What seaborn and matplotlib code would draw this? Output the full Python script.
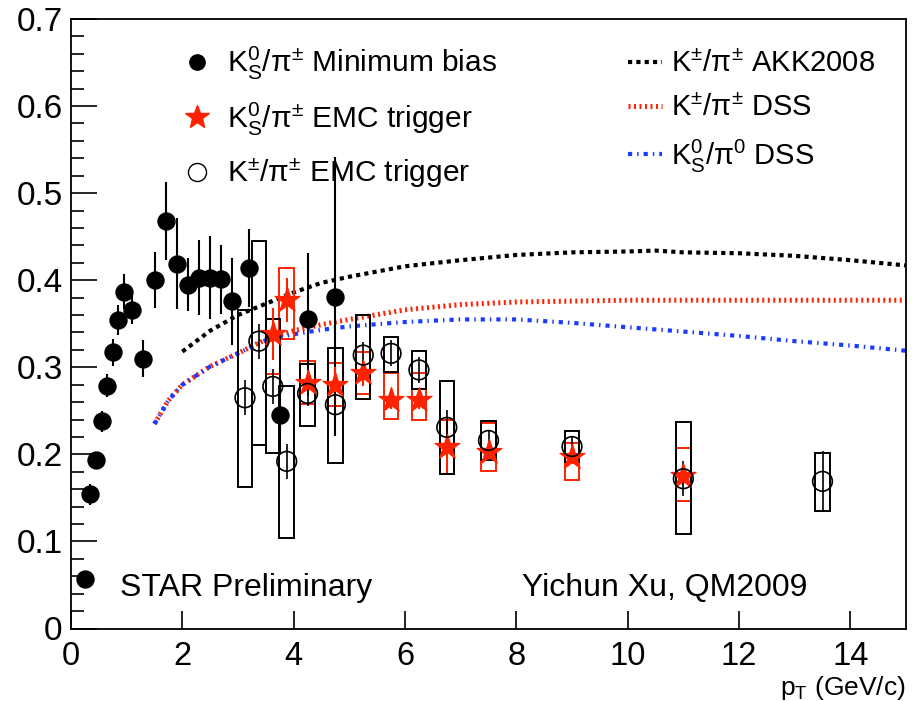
import numpy as np
import pandas as pd
import matplotlib
matplotlib.use("Agg")
import matplotlib.pyplot as plt
from matplotlib.patches import Rectangle
from matplotlib.lines import Line2D
import seaborn as sns

# ---------------- data ----------------
mb_pt = [0.25, 0.35, 0.45, 0.55, 0.65, 0.75, 0.85, 0.95, 1.1, 1.3, 1.5, 1.7, 1.9,
         2.1, 2.3, 2.5, 2.7, 2.9, 3.2, 3.75, 4.25, 4.75]
mb_ratio = [0.057, 0.154, 0.193, 0.238, 0.279, 0.317, 0.354, 0.387, 0.366, 0.310,
            0.400, 0.468, 0.419, 0.395, 0.403, 0.403, 0.401, 0.376, 0.414, 0.245,
            0.356, 0.381]
mb_err = [0.005, 0.012, 0.010, 0.012, 0.013, 0.015, 0.017, 0.020, 0.016, 0.021,
          0.032, 0.045, 0.052, 0.030, 0.043, 0.048, 0.040, 0.050, 0.045, 0.040,
          0.075, 0.160]

k0_pt = [3.625, 3.875, 4.25, 4.75, 5.25, 5.75, 6.25, 6.75, 7.5, 9.0, 11.0]
k0_ratio = [0.338, 0.377, 0.282, 0.280, 0.293, 0.262, 0.262, 0.209, 0.203, 0.197, 0.175]
k0_stat = [0.030, 0.025, 0.015, 0.020, 0.015, 0.010, 0.010, 0.030, 0.008, 0.008, 0.010]
k0_sys_lo = [0.292, 0.333, 0.258, 0.255, 0.269, 0.241, 0.239, 0.178, 0.181, 0.171, 0.146]
k0_sys_hi = [0.356, 0.414, 0.307, 0.305, 0.317, 0.293, 0.293, 0.240, 0.236, 0.213, 0.207]

kpm_pt = [3.125, 3.375, 3.625, 3.875, 4.25, 4.75, 5.25, 5.75, 6.25, 6.75, 7.5, 9.0,
          11.0, 13.5]
kpm_ratio = [0.265, 0.330, 0.278, 0.192, 0.270, 0.257, 0.314, 0.316, 0.297, 0.231,
             0.216, 0.209, 0.172, 0.169]
kpm_stat = [0.020, 0.020, 0.020, 0.020, 0.015, 0.015, 0.015, 0.015, 0.015, 0.020,
            0.012, 0.012, 0.020, 0.035]
kpm_sys_lo = [0.163, 0.211, 0.201, 0.104, 0.232, 0.190, 0.264, 0.295, 0.275, 0.178,
              0.194, 0.191, 0.108, 0.135]
kpm_sys_hi = [0.366, 0.445, 0.356, 0.278, 0.304, 0.322, 0.360, 0.335, 0.319, 0.284,
              0.238, 0.227, 0.237, 0.202]

akk_pt = [2.0, 2.5, 3.0, 3.5, 4.0, 4.5, 5.0, 6.0, 7.0, 8.0, 9.0, 10.0, 10.5, 11.0,
          12.0, 13.0, 14.0, 15.0]
akk_kpm = [0.318, 0.342, 0.360, 0.373, 0.386, 0.397, 0.404, 0.416, 0.423, 0.429,
           0.432, 0.433, 0.434, 0.432, 0.431, 0.428, 0.423, 0.417]

dss_pt = [1.5, 1.75, 2.0, 2.5, 3.0, 3.5, 4.0, 4.5, 5.0, 6.0, 7.0, 8.0, 9.0, 10.0,
          11.0, 12.0, 13.0, 14.0, 15.0]
dss_kpm = [0.235, 0.262, 0.280, 0.301, 0.316, 0.332, 0.342, 0.349, 0.355, 0.366,
           0.372, 0.375, 0.376, 0.377, 0.377, 0.377, 0.377, 0.377, 0.377]
dss_k0 = [0.235, 0.262, 0.280, 0.301, 0.316, 0.331, 0.338, 0.343, 0.347, 0.352,
          0.355, 0.355, 0.351, 0.346, 0.341, 0.336, 0.330, 0.325, 0.319]

lab_mb = r"$\mathrm{K^{0}_{S}/\pi^{\pm}}$ Minimum bias"
lab_k0 = r"$\mathrm{K^{0}_{S}/\pi^{\pm}}$ EMC trigger"
lab_kpm = r"$\mathrm{K^{\pm}/\pi^{\pm}}$ EMC trigger"
lab_akk = r"$\mathrm{K^{\pm}/\pi^{\pm}}$ AKK2008"
lab_dss1 = r"$\mathrm{K^{\pm}/\pi^{\pm}}$ DSS"
lab_dss2 = r"$\mathrm{K^{0}_{S}/\pi^{0}}$ DSS"

# ---------------- style ----------------
sns.set_style("ticks")
plt.rcParams["font.family"] = ["Liberation Sans", "DejaVu Sans"]
plt.rcParams["mathtext.fontset"] = "custom"
plt.rcParams["mathtext.rm"] = "Liberation Sans"
plt.rcParams["mathtext.it"] = "Liberation Sans:italic"
plt.rcParams["mathtext.bf"] = "Liberation Sans:bold"
for k in ["text.color", "axes.labelcolor", "xtick.color", "ytick.color",
          "axes.edgecolor"]:
    plt.rcParams[k] = "black"

RED = "#ff2200"
BLUE = "#1a3cff"

W, H = 914, 701
fig = plt.figure(figsize=(W / 100, H / 100), dpi=100)
L, R, T, B = 71, 906, 19, 628.5
ax = fig.add_axes([L / W, 1 - B / H, (R - L) / W, (B - T) / H])

# theory curves
sns.lineplot(x=akk_pt, y=akk_kpm, ax=ax, color="black", lw=3.0,
             linestyle=(0, (1, 1)), zorder=1)
sns.lineplot(x=dss_pt, y=dss_kpm, ax=ax, color=RED, lw=3.6,
             linestyle=(0, (0.4, 0.7)), zorder=1)
sns.lineplot(x=dss_pt, y=dss_k0, ax=ax, color=BLUE, lw=3.0,
             linestyle=(0, (1, 1.2, 0.35, 1.2)), zorder=1)

# systematic boxes
hw = 0.13
for x, lo, hi in zip(k0_pt, k0_sys_lo, k0_sys_hi):
    ax.add_patch(Rectangle((x - hw, lo), 2 * hw, hi - lo, fill=False,
                           edgecolor=RED, lw=1.4, zorder=2))
for x, lo, hi in zip(kpm_pt, kpm_sys_lo, kpm_sys_hi):
    ax.add_patch(Rectangle((x - hw, lo), 2 * hw, hi - lo, fill=False,
                           edgecolor="black", lw=1.4, zorder=2))

# stat error bars
ax.errorbar(mb_pt, mb_ratio, yerr=mb_err, fmt="none", ecolor="black",
            elinewidth=1.5, capsize=0, zorder=3)
ax.errorbar(k0_pt, k0_ratio, yerr=k0_stat, fmt="none", ecolor=RED,
            elinewidth=1.5, capsize=0, zorder=3)
ax.errorbar(kpm_pt, kpm_ratio, yerr=kpm_stat, fmt="none", ecolor="black",
            elinewidth=1.2, capsize=0, zorder=3)

# markers
sns.scatterplot(x=k0_pt, y=k0_ratio, ax=ax, marker="*", s=360, color=RED,
                edgecolor=RED, linewidth=0.8, zorder=4)
sns.scatterplot(x=mb_pt, y=mb_ratio, ax=ax, marker="o", s=150, color="black",
                edgecolor="black", zorder=5)
sns.scatterplot(x=kpm_pt, y=kpm_ratio, ax=ax, marker="o", s=200,
                facecolor="none", edgecolor="black", linewidth=1.2, zorder=6)

# axes
ax.set_xlim(0, 15)
ax.set_ylim(0, 0.7)
ax.set_xticks(np.arange(0, 15, 2))
ax.set_yticks(np.arange(0, 0.71, 0.1))
ax.set_yticks(np.arange(0, 0.701, 0.02), minor=True)
ax.set_yticklabels(["0", "0.1", "0.2", "0.3", "0.4", "0.5", "0.6", "0.7"])
ax.tick_params(axis="y", which="major", direction="in", length=18.5, width=1.2,
               labelsize=24, pad=6, left=True, right=False)
ax.tick_params(axis="y", which="minor", direction="in", length=9, width=1.2,
               left=True, right=False)
ax.tick_params(axis="x", which="major", direction="in", length=13, width=1.2,
               labelsize=23.5, pad=9, bottom=True, top=False)
for sp in ax.spines.values():
    sp.set_visible(True)
    sp.set_linewidth(1.3)
    sp.set_color("black")
ax.set_xlabel("")
ax.set_ylabel("")

fig.text(906 / W, 1 - 688 / H, r"p$_{\mathrm{T}}$ (GeV/c)", ha="right",
         va="center", fontsize=19)

ax.text(0.88, 0.047, "STAR Preliminary", fontsize=23, ha="left", va="center")
ax.text(8.10, 0.047, "Yichun Xu, QM2009", fontsize=23, ha="left", va="center")

# legends
h1 = [Line2D([], [], ls="none", marker="o", ms=11, color="black"),
      Line2D([], [], ls="none", marker="*", ms=18, color=RED),
      Line2D([], [], ls="none", marker="o", ms=13, mfc="none", mec="black", mew=1.0)]
leg1 = ax.legend(h1, [lab_mb, lab_k0, lab_kpm], loc="upper left",
                 bbox_to_anchor=(182 / W, 1 - 45 / H), bbox_transform=fig.transFigure,
                 frameon=False, fontsize=21.5, handlelength=1.0, handletextpad=0.5,
                 labelspacing=0.62, borderpad=0, borderaxespad=0)
ax.add_artist(leg1)

h2 = [Line2D([], [], color="black", lw=3.0, ls=(0, (1, 1))),
      Line2D([], [], color=RED, lw=3.6, ls=(0, (0.4, 0.7))),
      Line2D([], [], color=BLUE, lw=3.0, ls=(0, (1, 1.2, 0.35, 1.2)))]
leg2 = ax.legend(h2, [lab_akk, lab_dss1, lab_dss2], loc="upper left",
                 bbox_to_anchor=(628 / W, 1 - 50 / H), bbox_transform=fig.transFigure,
                 frameon=False, fontsize=21, handlelength=1.16, handletextpad=0.3,
                 labelspacing=0.54, borderpad=0, borderaxespad=0)

fig.savefig("out.png", dpi=100)
